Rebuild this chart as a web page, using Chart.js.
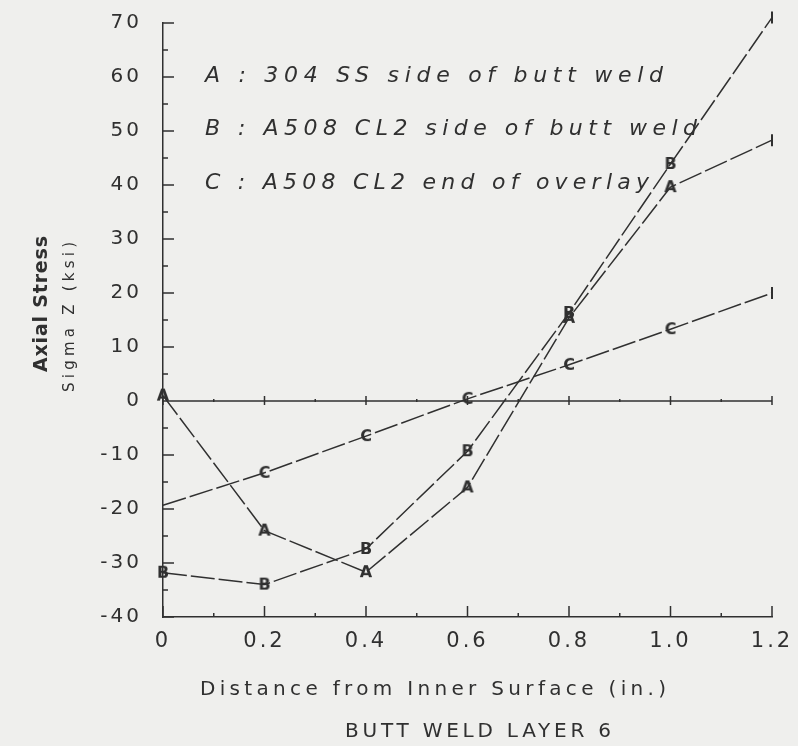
<!DOCTYPE html>
<html>
<head>
<meta charset="utf-8">
<script src="https://cdn.jsdelivr.net/npm/chart.js@4"></script>
<style>
  html, body { margin: 0; padding: 0; background: #efefed; }
  canvas { display: block; }
</style>
</head>
<body>
<canvas id="stressChart" width="798" height="746"></canvas>
<script>
// Distance from inner surface (in.)
const distances = [0, 0.2, 0.4, 0.6, 0.8, 1.0, 1.2];

// Axial stress, sigma Z (ksi)
const seriesA = [1, -24, -31.7, -16, 15.4, 39.6, 48.3];     // 304 SS side of butt weld
const seriesB = [-31.8, -34, -27.4, -9.3, 16.3, 43.9, 71];  // A508 CL2 side of butt weld
const seriesC = [-19.3, -13.3, -6.5, 0.4, 6.7, 13.3, 20];   // A508 CL2 end of overlay

// Axis ticks
const xTicks = [0, 0.2, 0.4, 0.6, 0.8, 1.0, 1.2];
const xTickMarks = [0, 0.1, 0.2, 0.3, 0.4, 0.5, 0.6, 0.7, 0.8, 0.9, 1.0, 1.1, 1.2];
const yTicks = [-40, -30, -20, -10, 0, 10, 20, 30, 40, 50, 60, 70];
const yTickMarks = [-40, -35, -30, -25, -20, -15, -10, -5, 0, 5, 10, 15, 20, 25, 30, 35, 40, 45, 50, 55, 60, 65, 70];

// Text
const legendLines = [
  'A : 304 SS side of butt weld',
  'B : A508 CL2 side of butt weld',
  'C : A508 CL2 end of overlay'
];
const yTitle = 'Axial Stress';
const ySubTitle = 'Sigma Z (ksi)';
const xTitle = 'Distance from Inner Surface (in.)';
const caption = 'BUTT WELD LAYER 6';

const ink = '#303030';

// small letter markers, like the plotter symbols
function letterMarker(ch) {
  const c = document.createElement('canvas');
  c.width = 18;
  c.height = 18;
  const g = c.getContext('2d');
  g.font = 'bold 16px "DejaVu Sans"';
  g.fillStyle = ink;
  g.textAlign = 'center';
  g.textBaseline = 'middle';
  g.fillText(ch, 9, 10);
  return c;
}

function buildSeries(values, ch, firstVisible) {
  const m = letterMarker(ch);
  return {
    label: ch,
    data: values.map((v, i) => ({ x: distances[i], y: v })),
    borderColor: ink,
    borderWidth: 1.5,
    borderDash: [24, 4],
    pointStyle: values.map((v, i) => i === values.length - 1 ? 'line' : m),
    pointRotation: values.map((v, i) => i === values.length - 1 ? 90 : 0),
    pointRadius: values.map((v, i) => (i === 0 && !firstVisible) ? 0 : 6),
    pointBorderColor: ink,
    pointBorderWidth: 2,
    tension: 0,
    clip: false
  };
}

// draw text stretched to a given width (plotter letters are widely spaced)
function spacedText(ctx, str, x, y, width) {
  ctx.letterSpacing = '0px';
  const w = ctx.measureText(str).width;
  const ls = (width - w) / (str.length - 1);
  ctx.letterSpacing = ls + 'px';
  ctx.fillText(str, x, y);
  ctx.letterSpacing = '0px';
}

const decorations = {
  id: 'decorations',
  beforeLayout(chart) { chart.ctx.letterSpacing = '3px'; },
  beforeDraw(chart) { chart.ctx.letterSpacing = '3px'; },
  beforeDatasetsDraw(chart) {
    const { ctx, chartArea, scales: { x, y } } = chart;
    ctx.save();
    ctx.strokeStyle = ink;
    ctx.lineWidth = 1.5;
    ctx.beginPath();
    // inward ticks on the bottom axis
    xTickMarks.forEach((v, i) => {
      const px = x.getPixelForValue(v);
      const len = i % 2 === 0 ? 11 : 4;
      ctx.moveTo(px, chartArea.bottom);
      ctx.lineTo(px, chartArea.bottom - len);
    });
    // inward ticks on the left axis
    yTickMarks.forEach((v, i) => {
      const py = y.getPixelForValue(v);
      const len = i % 2 === 0 ? 11 : 5;
      ctx.moveTo(chartArea.left, py);
      ctx.lineTo(chartArea.left + len, py);
    });
    // zero line with its own tick marks
    const y0 = y.getPixelForValue(0);
    ctx.moveTo(chartArea.left, y0);
    ctx.lineTo(chartArea.right, y0);
    xTickMarks.forEach((v, i) => {
      const px = x.getPixelForValue(v);
      const len = i % 2 === 0 ? 5 : 2;
      ctx.moveTo(px, y0 - len);
      ctx.lineTo(px, y0 + (i % 2 === 0 ? 4 : 1));
    });
    ctx.stroke();
    ctx.restore();
  },
  afterDraw(chart) {
    const ctx = chart.ctx;
    ctx.save();
    ctx.letterSpacing = '0px';
    ctx.fillStyle = ink;
    ctx.textBaseline = 'middle';
    ctx.textAlign = 'left';

    // legend inside the plot
    ctx.font = 'italic 22px "DejaVu Sans"';
    const legendY = [76, 129, 183];
    const legendW = [458, 492, 444];
    legendLines.forEach((s, i) => spacedText(ctx, s, 205, legendY[i], legendW[i]));

    // bottom titles
    ctx.font = '20px "DejaVu Sans"';
    spacedText(ctx, xTitle, 200, 690, 466);
    spacedText(ctx, caption, 345, 732, 266);

    // vertical titles
    ctx.save();
    ctx.translate(42, 372);
    ctx.rotate(-Math.PI / 2);
    ctx.font = 'bold 19px "DejaVu Sans"';
    spacedText(ctx, yTitle, 0, 0, 136);
    ctx.restore();

    ctx.save();
    ctx.translate(70, 392);
    ctx.rotate(-Math.PI / 2);
    ctx.font = '15px "DejaVu Sans"';
    spacedText(ctx, ySubTitle, 0, 0, 150);
    ctx.restore();

    ctx.restore();
  }
};

new Chart(document.getElementById('stressChart'), {
  type: 'line',
  data: {
    datasets: [
      buildSeries(seriesA, 'A', true),
      buildSeries(seriesB, 'B', true),
      buildSeries(seriesC, 'C', false)
    ]
  },
  options: {
    responsive: false,
    animation: false,
    devicePixelRatio: 1,
    layout: { padding: { top: 23, right: 26, left: 0, bottom: 0 } },
    plugins: { legend: { display: false }, tooltip: { enabled: false } },
    scales: {
      x: {
        type: 'linear',
        min: 0,
        max: 1.2,
        afterBuildTicks: (s) => { s.ticks = xTicks.map(v => ({ value: v })); },
        afterFit: (s) => {
          s.height = 129;
          s.paddingLeft = 0;
          s.paddingRight = 0;
        },
        grid: { display: true, drawOnChartArea: false, drawTicks: false },
        border: { display: true, color: ink, width: 1.5 },
        ticks: {
          color: ink,
          padding: 12,
          maxRotation: 0,
          font: { family: 'DejaVu Sans', size: 21 },
          callback: (v) => v === 0 ? '0' : Number(v).toFixed(1)
        }
      },
      y: {
        type: 'linear',
        min: -40,
        max: 70,
        afterBuildTicks: (s) => { s.ticks = yTicks.map(v => ({ value: v })); },
        afterFit: (s) => {
          s.width = 163;
          s.paddingTop = 0;
          s.paddingBottom = 0;
        },
        grid: { display: true, drawOnChartArea: false, drawTicks: false },
        border: { display: true, color: ink, width: 1.5 },
        ticks: {
          color: ink,
          padding: 21,
          font: { family: 'DejaVu Sans', size: 20 }
        }
      }
    }
  },
  plugins: [decorations]
});
</script>
</body>
</html>
